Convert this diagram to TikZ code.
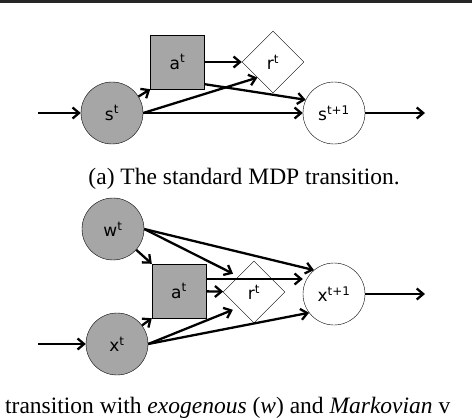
\documentclass[tikz,border=0pt]{standalone}
\usepackage{fontspec}
\setmainfont{Liberation Serif}
\newfontfamily\nodefont{DejaVu Sans}
\usetikzlibrary{shapes.geometric,arrows.meta}

\begin{document}
\begin{tikzpicture}[x=1pt,y=-1pt,
  var/.style={circle,draw,thin,minimum size=62pt,inner sep=0pt,font=\nodefont\fontsize{17}{19}\selectfont},
  obs/.style={var,fill=black!35},
  act/.style={rectangle,draw,thin,fill=black!35,minimum size=54pt,inner sep=0pt,font=\nodefont\fontsize{17}{19}\selectfont},
  rew/.style={diamond,draw,thin,aspect=1,minimum size=62pt,inner sep=0pt,font=\nodefont\fontsize{17}{19}\selectfont},
  arr/.style={-{Straight Barb[length=6.5pt,width=11pt]},line width=2.3pt},
  captext/.style={font=\fontsize{23.5}{27}\selectfont,inner sep=0pt}]
 \useasboundingbox (0,0) rectangle (472,420);
 \clip (0,0) rectangle (472,420);
 \fill[black!85] (0,0) rectangle (472,3.3);

 % (a) standard transition
 \coordinate (in1) at (38,113);
 \node[obs] (st) at (112,113) {s\textsuperscript{t}};
 \node[act] (at) at (177.5,62) {a\textsuperscript{t}};
 \node[rew] (rt) at (273,62) {r\textsuperscript{t}};
 \node[var] (st1) at (334,113) {s\textsuperscript{t+1}};
 \coordinate (out1) at (425,113);
 \node[captext,anchor=base east] (capa) at (400,184) {(a) The standard MDP transition.};
 \path[arr]
  (in1) edge (st)
  (st) edge (at.south west)
  (st.east) edge (rt.south west) edge (st1)
  (at) edge (rt)
  ([yshift=5pt]at.south east) edge (st1.155)
  (st1) edge (out1);

 % (b) exogenous and markovian
 \node[obs] (wt) at (113,229) {w\textsuperscript{t}};
 \coordinate (in2) at (38,344);
 \node[obs] (xt) at (117,344) {x\textsuperscript{t}};
 \node[act] (at2) at (179,291) {a\textsuperscript{t}};
 \node[rew] (rt2) at (254,292) {r\textsuperscript{t}};
 \node[var] (xt1) at (334,294) {x\textsuperscript{t+1}};
 \coordinate (out2) at (425,294);
 \node[captext,anchor=base west] (capb) at (5,413) {transition with \textit{exogenous} (\textit{w}) and \textit{Markovian} v};
 \path[arr]
  (in2) edge (xt)
  (wt) edge (at2.north west)
  (wt.east) edge[shorten >=6pt] (rt2.north west) edge (xt1.130)
  (at2) edge (rt2)
  ([yshift=12pt]at2.east) edge ([yshift=12pt]at2.east -| xt1.west)
  (xt) edge (at2.south west)
  (xt.east) edge[shorten >=6pt] (rt2.south west) edge (xt1.217)
  (xt1) edge (out2);
\end{tikzpicture}
\end{document}
